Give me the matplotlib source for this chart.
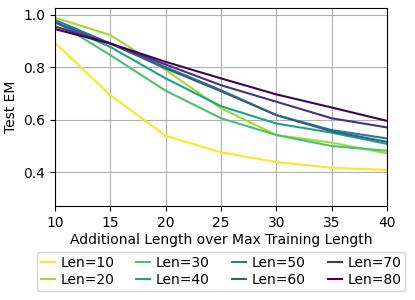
import matplotlib
matplotlib.use("Agg")
import matplotlib.pyplot as plt
import numpy as np

extra_len = [10, 15, 20, 25, 30, 35, 40]
labels = ["Len=10", "Len=20", "Len=30", "Len=40", "Len=50", "Len=60", "Len=70", "Len=80"]

len10 = [0.893, 0.693, 0.538, 0.475, 0.438, 0.416, 0.408]
len20 = [0.989, 0.922, 0.789, 0.643, 0.541, 0.512, 0.471]
len30 = [0.975, 0.846, 0.710, 0.605, 0.541, 0.499, 0.481]
len40 = [0.970, 0.877, 0.757, 0.651, 0.585, 0.550, 0.507]
len50 = [0.980, 0.890, 0.800, 0.712, 0.617, 0.560, 0.528]
len60 = [0.970, 0.890, 0.795, 0.708, 0.617, 0.555, 0.515]
len70 = [0.955, 0.890, 0.810, 0.731, 0.668, 0.605, 0.570]
len80 = [0.945, 0.890, 0.820, 0.757, 0.696, 0.646, 0.595]

series = [len10, len20, len30, len40, len50, len60, len70, len80]
colors = plt.cm.viridis(np.linspace(1, 0, len(series)))

fig = plt.figure(figsize=(4.15, 3.0), dpi=100)
ax = fig.add_axes([0.1325, 0.313, 0.8, 0.66])

for vals, lab, c in zip(series, labels, colors):
    ax.plot(extra_len, vals, color=c, label=lab, linewidth=1.5)

ax.set_xlim(10, 40)
ax.set_ylim(0.27, 1.025)
ax.set_xticks(extra_len)
ax.set_yticks([0.4, 0.6, 0.8, 1.0])
ax.grid(True, color="#b0b0b0", linewidth=0.8)
ax.set_xlabel("Additional Length over Max Training Length", labelpad=2)
ax.set_ylabel("Test EM")

ax.legend(loc="upper center", bbox_to_anchor=(0.5, -0.232), ncol=4,
          handlelength=1.0, columnspacing=1.6, handletextpad=0.4,
          borderaxespad=0, labelspacing=0.2, borderpad=0.3)

fig.savefig("out.png", dpi=100)
